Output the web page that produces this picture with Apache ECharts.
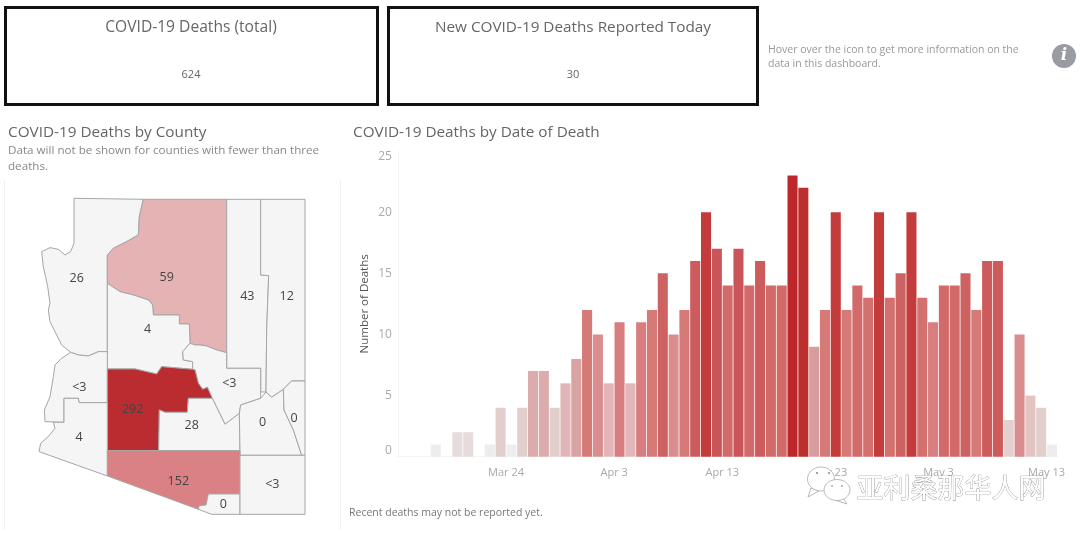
<!DOCTYPE html>
<html><head><meta charset="utf-8">
<style>html,body{margin:0;padding:0;background:#fff}#c{width:1080px;height:535px}</style>
<script src="https://cdn.jsdelivr.net/npm/echarts@6/dist/echarts.min.js"></script>
</head><body><div id="c"></div>
<script>
// ---------- data ----------
const dates = ['Mar 14','Mar 15','Mar 16','Mar 17','Mar 18','Mar 19','Mar 20','Mar 21','Mar 22','Mar 23','Mar 24','Mar 25','Mar 26','Mar 27','Mar 28','Mar 29','Mar 30','Mar 31','Apr 1','Apr 2','Apr 3','Apr 4','Apr 5','Apr 6','Apr 7','Apr 8','Apr 9','Apr 10','Apr 11','Apr 12','Apr 13','Apr 14','Apr 15','Apr 16','Apr 17','Apr 18','Apr 19','Apr 20','Apr 21','Apr 22','Apr 23','Apr 24','Apr 25','Apr 26','Apr 27','Apr 28','Apr 29','Apr 30','May 1','May 2','May 3','May 4','May 5','May 6','May 7','May 8','May 9','May 10','May 11','May 12','May 13'];
const deaths = [null,null,null,1,null,2,2,null,1,4,1,4,7,7,4,6,8,12,10,6,11,6,11,12,15,10,12,16,20,17,14,17,14,16,14,14,23,22,9,12,20,12,14,13,20,13,15,20,13,11,14,14,15,12,16,16,3,10,5,4,1];
const xTickLabels = ['Mar 24','Apr 3','Apr 13','Apr 23','May 3','May 13'];
const yTicks = [0,5,10,15,20,25];
const countyNames  = ['Mohave','Coconino','Navajo','Apache','Yavapai','Gila','La Paz','Maricopa','Pinal','Graham','Greenlee','Yuma','Pima','Santa Cruz','Cochise'];
const countyDeaths = [26,59,43,12,4,2,2,292,28,0,0,4,152,0,2];
const countyLabels = ['26','59','43','12','4','<3','<3','292','28','0','0','4','152','0','<3'];
const cards = [['COVID-19 Deaths (total)','624'],['New COVID-19 Deaths Reported Today','30']];

// ---------- county outlines (traced map geometry, tracing units) ----------
const outlines = {
 'Mohave':[[222,55],[430,58],[418,110],[415,165],[380,185],[340,205],[322,225],[322,515],[295,515],[265,528],[235,525],[212,517],[185,495],[170,465],[150,425],[145,390],[150,370],[143,320],[130,260],[125,215],[150,203],[175,208],[195,225],[212,215],[222,190]],
 'Coconino':[[430,58],[680,58],[680,518],[650,510],[620,498],[600,495],[585,495],[570,490],[568,432],[538,432],[538,405],[460,405],[458,375],[445,360],[400,345],[360,335],[322,310],[322,225],[340,205],[380,185],[415,165],[418,110]],
 'Navajo':[[680,58],[782,58],[782,285],[806,287],[800,450],[798,636],[782,636],[782,565],[680,565],[680,518]],
 'Apache':[[782,58],[915,58],[915,603],[875,603],[850,628],[815,652],[798,636],[800,450],[806,287],[782,285]],
 'Yavapai':[[322,310],[360,335],[400,345],[445,360],[458,375],[460,405],[538,405],[538,432],[568,432],[570,490],[548,515],[550,540],[578,545],[578,568],[485,560],[470,582],[440,575],[405,567],[322,567]],
 'Gila':[[570,490],[585,495],[600,495],[620,498],[650,510],[680,518],[680,565],[782,565],[782,655],[722,675],[718,700],[675,733],[637,655],[622,622],[608,628],[595,610],[585,570],[578,568],[578,545],[550,540],[548,515]],
 'La Paz':[[212,517],[235,525],[265,528],[295,515],[322,515],[322,668],[237,668],[235,655],[192,655],[192,727],[135,725],[133,690],[150,650],[160,590],[165,555],[185,535]],
 'Maricopa':[[322,567],[405,567],[440,575],[470,582],[485,560],[578,568],[585,570],[595,610],[608,628],[622,622],[637,655],[565,655],[562,697],[495,697],[478,690],[476,812],[322,812]],
 'Pinal':[[478,690],[495,697],[562,697],[565,655],[637,655],[675,733],[718,700],[720,812],[476,812]],
 'Graham':[[722,675],[782,655],[798,636],[815,652],[850,628],[852,690],[880,750],[905,826],[720,826],[720,812],[718,700]],
 'Greenlee':[[850,628],[875,603],[915,603],[915,826],[905,826],[880,750],[852,690]],
 'Yuma':[[192,655],[235,655],[237,668],[322,668],[322,888],[117,815],[122,790],[145,770],[165,745],[160,727],[192,727]],
 'Pima':[[322,812],[476,812],[720,812],[720,942],[625,942],[618,975],[598,977],[595,988],[322,888]],
 'Santa Cruz':[[625,942],[720,942],[720,1003],[635,1003],[595,988],[598,977],[618,975]],
 'Cochise':[[720,826],[915,826],[915,1003],[720,1003]]
};
const labelAnchors = {'Mohave':[230,295],'Coconino':[500,290],'Navajo':[742,347],'Apache':[860,347],'Yavapai':[443,447],'Gila':[688,610],'La Paz':[238,622],'Maricopa':[398,687],'Pinal':[575,735],'Graham':[788,727],'Greenlee':[882,715],'Yuma':[237,772],'Pima':[535,902],'Santa Cruz':[670,973],'Cochise':[817,912]};
const flip = p => [p[0], -p[1]];
echarts.registerMap('az', {type:'FeatureCollection', features: countyNames.map(n => ({
  type:'Feature',
  properties:{name:n, cp:flip(labelAnchors[n])},
  geometry:{type:'Polygon', coordinates:[[...outlines[n], outlines[n][0]].map(flip)]}
}))});

const FONT = '"Open Sans", sans-serif';
const chart = echarts.init(document.getElementById('c'), null, {renderer:'canvas'});
const txt = (text,x,y,size,color,align) => ({type:'text', x, y, silent:true, style:{text, fontFamily:FONT, fontSize:size, fill:color, align:align||'left', verticalAlign:'middle'}});
const box = (x,w) => ({type:'rect', shape:{x,y:7.5,width:w,height:97}, style:{fill:'#fff',stroke:'#111',lineWidth:3}, z:-1});
const bubbleLine = {fill:'#fff',stroke:'#aaa',lineWidth:0.8};
const WM = 100;

chart.setOption({
  backgroundColor:'#fff',
  animation:false,
  grid:{left:397.9, top:151, width:659.5, height:305.7},
  xAxis:{type:'category', data:dates, boundaryGap:true,
    axisLine:{show:true,lineStyle:{color:'#f4f4f4'}}, axisTick:{show:false}, splitLine:{show:false},
    axisLabel:{interval:(i,v)=>xTickLabels.includes(v), hideOverlap:false, color:'#a8a8a8', fontFamily:FONT, fontSize:11, margin:10.5, padding:[0,10.8,0,0]}},
  yAxis:{type:'value', min:0, max:25, interval:5,
    name:'Number of Deaths', nameLocation:'middle', nameGap:27, nameRotate:90, nameMoveOverlap:false,
    nameTextStyle:{color:'#555',fontFamily:FONT,fontSize:11.5},
    axisLine:{show:true,lineStyle:{color:'#f4f4f4'}}, axisTick:{show:false}, splitLine:{show:false},
    axisLabel:{color:'#aaa', fontFamily:FONT, fontSize:12, margin:6, verticalAlignMinLabel:'bottom', verticalAlignMaxLabel:'top',
      formatter:v=>yTicks.includes(v)?String(v):''}},
  visualMap:[
    {show:false, seriesIndex:0, type:'continuous', min:1, max:23, dimension:1,
     inRange:{color:['#ededed','#e6dcdb','#e3d0ce','#e2cfcd','#e3c4c3','#e2b6b8','#dcabab','#d9a3a1','#d99c9e','#d98d8f','#d87e80','#d67a78','#d4716f','#d26a69','#cd6262','#cd5b5c','#c9545a','#c64a4c','#c44242','#c43b3c','#c03334','#bd2e2f','#bb272a']}},
    {show:false, seriesIndex:1, type:'piecewise',
     pieces:[{lte:50,color:'#f5f5f5'},{gt:50,lte:100,color:'#e5b3b3'},{gt:100,lte:200,color:'#d98184'},{gt:200,color:'#bb2c30'}]}
  ],
  series:[
    {type:'bar', data:deaths, barCategoryGap:'7%', silent:true},
    {type:'map', map:'az', aspectScale:1, left:39, top:198.3, width:266, height:316, roam:false, silent:true,
     data:countyNames.map((n,i)=>({name:n, value:countyDeaths[i]})),
     itemStyle:{borderColor:'#a6a6a6', borderWidth:1},
     label:{show:true, fontFamily:FONT, fontSize:12.5, color:'#444', offset:[0,0.5],
       formatter:p=>countyLabels[countyNames.indexOf(p.name)]}}
  ],
  graphic:[
    box(5.5,372), box(388.5,369),
    txt(cards[0][0],191,27.5,15.6,'#666','center'), txt(cards[0][1],191,74.5,11,'#666','center'),
    txt(cards[1][0],573,27.5,15.3,'#666','center'), txt(cards[1][1],573,74.5,11,'#666','center'),
    txt('Hover over the icon to get more information on the',768,50.5,10.5,'#999'),
    txt('data in this dashboard.',768,64,10.5,'#999'),
    {type:'circle', shape:{cx:1064,cy:56,r:12}, style:{fill:'#9a9ca3'}},
    {type:'text', x:1064, y:56, z:5, style:{text:'i',fontFamily:'"DejaVu Serif"',fontStyle:'italic',fontWeight:'bold',fontSize:17,fill:'#fff',align:'center',verticalAlign:'middle'}},
    txt('COVID-19 Deaths by County',8,132.5,15.3,'#666'),
    txt('Data will not be shown for counties with fewer than three',8,150.5,11.65,'#888'),
    txt('deaths.',8,166.5,11.65,'#888'),
    txt('COVID-19 Deaths by Date of Death',353,132.5,15.3,'#666'),
    txt('Recent deaths may not be reported yet.',349,513.5,10.5,'#777'),
    {type:'line', shape:{x1:4.5,y1:180,x2:4.5,y2:530}, style:{stroke:'#f0f0f0',lineWidth:1}},
    {type:'line', shape:{x1:340.5,y1:180,x2:340.5,y2:530}, style:{stroke:'#f0f0f0',lineWidth:1}},
    // watermark
    {type:'polygon', z:WM, shape:{points:[[811,488],[808,497],[819,491]]}, style:bubbleLine},
    {type:'ellipse', z:WM, shape:{cx:821,cy:479,rx:13.5,ry:12}, style:bubbleLine},
    {type:'polygon', z:WM+1, shape:{points:[[843,498],[847,504],[835,500]]}, style:bubbleLine},
    {type:'ellipse', z:WM+1, shape:{cx:837,cy:490,rx:13,ry:10.5}, style:bubbleLine},
    {type:'circle', z:WM+2, shape:{cx:817,cy:473,r:1}, style:{fill:'#888'}},
    {type:'circle', z:WM+2, shape:{cx:829,cy:473,r:1}, style:{fill:'#888'}},
    {type:'circle', z:WM+2, shape:{cx:832,cy:486,r:1}, style:{fill:'#aaa'}},
    {type:'circle', z:WM+2, shape:{cx:842,cy:486,r:1}, style:{fill:'#aaa'}},
    {type:'text', z:WM+2, x:951, y:488, style:{text:'亚利桑那华人网',fontFamily:'"Noto Sans CJK SC"',fontSize:27,fill:'#fff',stroke:'#888',lineWidth:0.7,align:'center',verticalAlign:'middle'}}
  ]
});
</script></body></html>
